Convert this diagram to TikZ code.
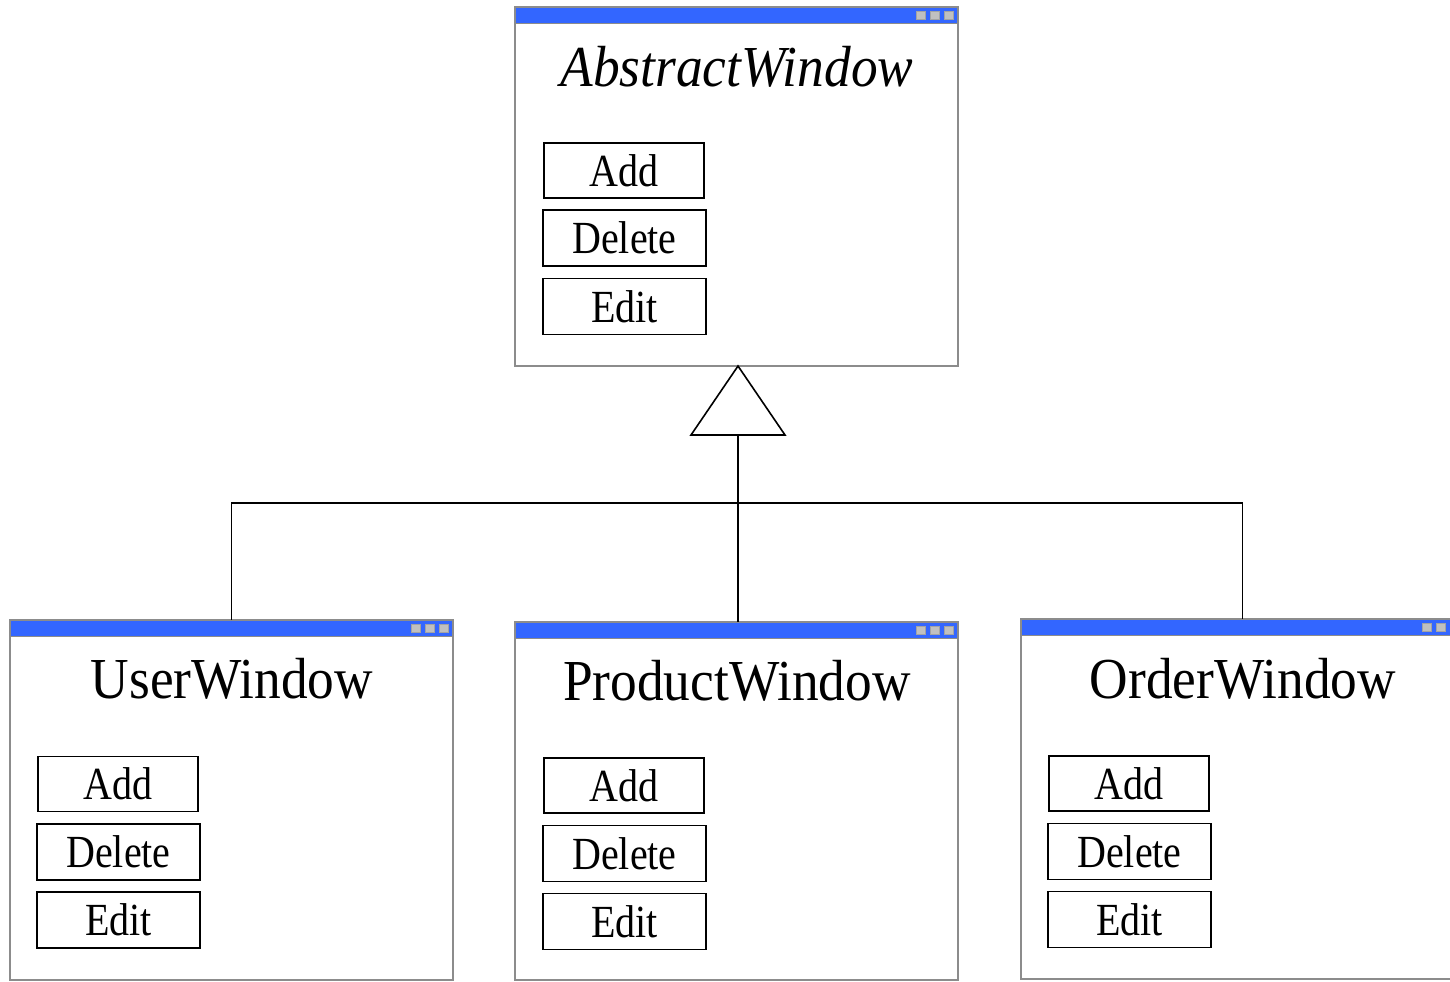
\documentclass[tikz,border=0pt]{standalone}
\usepackage{fontspec}
\setmainfont{Liberation Serif}
\newfontfamily\titlefont[FakeStretch=0.92]{Liberation Serif}
\newfontfamily\btnfont[FakeStretch=0.87]{Liberation Serif}
\usetikzlibrary{calc}
\definecolor{barblue}{RGB}{51,102,255}
\definecolor{framegray}{RGB}{140,140,140}
\definecolor{sqgray}{RGB}{192,192,192}
\tikzset{
  win/.style={draw=framegray, line width=0.75pt, fill=white, anchor=north west,
    minimum width=221.5pt, inner sep=0pt, outer sep=0pt},
  btnbox/.style={draw=black, line width=0.7pt, inner sep=0pt, outer sep=0pt,
    font=\btnfont\fontsize{23}{26}\selectfont},
  btnsmall/.style={btnbox, minimum width=80pt, minimum height=27.5pt},
  btnwide/.style={btnbox, minimum width=81.5pt, minimum height=28pt},
  wintitle/.style={anchor=base, inner sep=0pt, font=\titlefont\fontsize{29}{34}\selectfont},
  conn/.style={draw=black, line width=0.8pt},
}
\newcommand{\titlebar}[1]{%
  \fill[barblue] (#1.north west) rectangle ($(#1.north east)+(0,16.5)$);
  \draw[framegray, line width=0.75pt] ($(#1.north west)+(0,16.5)$) -- ($(#1.north east)+(0,16.5)$);
  \draw[framegray, line width=0.75pt] (#1.north west) rectangle (#1.south east);
  \foreach \k in {42,28,14} {
    \filldraw[fill=sqgray, draw=sqgray!85!black, line width=0.3pt]
      ($(#1.north east)+(-\k,4)$) rectangle ++(9.5,8.5);
  }
}
\begin{document}
\begin{tikzpicture}[x=0.5pt, y=-0.5pt]
\clip (0,0) rectangle (1450,981);
\fill[white] (0,0) rectangle (1450,981);

% windows
\node[win, minimum height=179.5pt] (aw) at (515,7) {};
\node[win, minimum height=180pt] (uw) at (10,620) {};
\node[win, minimum height=179pt] (pw) at (515,622) {};
\node[win, minimum height=180pt] (ow) at (1021,619) {};
\titlebar{aw}
\titlebar{uw}
\titlebar{pw}
\titlebar{ow}

% titles
\node[wintitle] (awt) at (737,86) {\itshape AbstractWindow};
\node[wintitle] (uwt) at (232,698) {UserWindow};
\node[wintitle] (pwt) at (737,700) {ProductWindow};
\node[wintitle] (owt) at (1243,698) {OrderWindow};

% buttons AbstractWindow
\node[btnsmall] (awa) at (624,170.5) {Add};
\node[btnwide]  (awd) at (624.5,238) {Delete};
\node[btnwide]  (awe) at (624.5,306.5) {Edit};
% UserWindow
\node[btnsmall] (uwa) at (118,784) {Add};
\node[btnwide]  (uwd) at (118.5,852) {Delete};
\node[btnwide]  (uwe) at (118.5,920) {Edit};
% ProductWindow
\node[btnsmall] (pwa) at (624,785.5) {Add};
\node[btnwide]  (pwd) at (624.5,853.5) {Delete};
\node[btnwide]  (pwe) at (624.5,921.5) {Edit};
% OrderWindow
\node[btnsmall] (owa) at (1129,783.5) {Add};
\node[btnwide]  (owd) at (1129.5,851.5) {Delete};
\node[btnwide]  (owe) at (1129.5,919.5) {Edit};

% generalization
\coordinate (apex) at (738,366);
\coordinate (tb) at (738,435);
\coordinate (bus) at (738,503);
\draw[conn, fill=white] (apex) -- (691,435) -- (785,435) -- cycle;
\draw[conn] (tb) -- (tb |- pw.north);
\draw[conn] (uw.north) -- (uw.north |- bus) -- (ow.north |- bus) -- (ow.north);
\end{tikzpicture}
\end{document}
